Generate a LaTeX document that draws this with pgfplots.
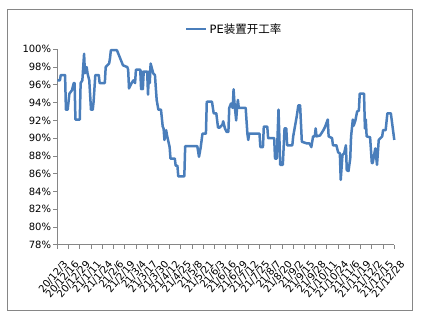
\documentclass[border=0pt]{standalone}
\usepackage{pgfplots}
\pgfplotsset{compat=1.18}
\usepackage{fontspec}
\setmainfont{DejaVu Sans}
\newfontfamily\cjk{Noto Sans CJK SC}
\definecolor{xlblue}{HTML}{4A7EBB}
\definecolor{axgray}{HTML}{868686}
\begin{document}
\begin{tikzpicture}
\path[use as bounding box] (-57.3pt,-74.2pt) rectangle (363.7pt,244.8pt);
\draw[axgray, line width=0.8pt] (-50.3pt,-65.9pt) rectangle (354.7pt,235.8pt);
\begin{axis}[
  at={(0pt,0pt)}, anchor=origin,
  scale only axis, width=337pt, height=195.5pt,
  xmin=0, xmax=390, ymin=78, ymax=100,
  axis x line*=bottom, axis y line*=left,
  axis line style={-, draw=axgray, line width=0.8pt},
  tick align=outside, major tick length=4pt,
  tick style={draw=axgray, line width=0.8pt},
  xtick={0,13,...,390},
  xticklabels={20/12/3,20/12/16,20/12/29,21/1/11,21/1/24,21/2/6,21/2/19,21/3/4,21/3/17,21/3/30,21/4/12,21/4/25,21/5/8,21/5/21,21/6/3,21/6/16,21/6/29,21/7/12,21/7/25,21/8/7,21/8/20,21/9/2,21/9/15,21/9/28,21/10/11,21/10/24,21/11/6,21/11/19,21/12/2,21/12/15,21/12/28},
  x tick label style={xshift=5pt, yshift=-9pt, rotate=50, anchor=north east, font=\fontsize{10}{12}\selectfont, inner sep=1pt},
  ytick={78,80,...,100},
  yticklabels={78\%,80\%,82\%,84\%,86\%,88\%,90\%,92\%,94\%,96\%,98\%,100\%},
  y tick label style={font=\fontsize{10}{12}\selectfont, inner sep=2pt},
  legend style={at={(0.525,1.104)}, anchor=center, draw=none, fill=none, font=\fontsize{11.5}{13}\selectfont},
  legend image code/.code={\draw[#1] (0pt,0pt) -- (20pt,0pt);},
  clip=false,
]
\addplot[xlblue, line width=2.5pt, line join=round] coordinates {
(0,96.5)(3,96.5)(4,97.1)(9,97.1)(10,93.2)(12,93.2)(14,95.0)(17,95.4)(19,96.2)(20,96.2)
(21,92.1)(26,92.1)(27,96.2)(29,96.5)(31,99.5)(32,97.3)(34,98.0)(35,97.3)(37,96.5)(39,93.2)
(41,93.2)(42,94.1)(44,97.1)(48,97.1)(49,96.2)(55,96.2)(56,98.0)(60,98.4)(61,99.0)(62,99.9)
(69,99.9)(76,98.2)(81,98.0)(82,97.7)(83,95.6)(86,96.2)(88,96.5)(90,96.2)(91,97.7)(96,97.7)
(97,95.5)(98,97.5)(99,95.5)(100,97.5)(104,97.5)(105,94.9)(106,97.5)(107,96.2)(108,98.4)(111,97.3)
(113,97.1)(115,94.3)(117,93.2)(120,93.2)(122,91.3)(123,91.1)(124,89.8)(126,90.9)(127,90.3)(130,89.0)
(131,87.7)(136,87.7)(137,86.9)(139,86.9)(140,85.7)(147,85.7)(148,89.1)(162,89.1)(164,87.9)(166,89.0)
(168,90.5)(172,90.5)(173,94.1)(179,94.1)(181,92.8)(184,92.8)(186,91.2)(188,91.2)(191,91.5)(192,91.9)
(194,91.1)(196,90.7)(198,90.7)(199,93.4)(201,93.9)(203,93.4)(204,95.5)(205,94.0)(207,92.0)(208,93.4)
(209,94.3)(210,93.4)(218,93.4)(220,90.5)(221,89.8)(222,90.5)(234,90.5)(235,89.0)(238,89.0)(239,91.3)
(243,91.3)(244,90.0)(251,90.0)(252,87.7)(254,87.7)(256,93.2)(258,87.0)(261,87.0)(263,91.1)(265,91.1)
(266,89.2)(272,89.2)(273,90.2)(277,92.4)(279,93.7)(281,93.7)(283,89.6)(289,89.4)(292,89.4)(294,89.0)
(296,90.2)(298,90.2)(299,91.1)(300,90.2)(304,90.3)(308,90.9)(310,91.3)(313,92.1)(314,90.2)(318,90.0)
(319,89.2)(323,89.2)(325,88.4)(327,88.3)(328,85.3)(330,88.1)(332,88.3)(334,89.2)(335,86.4)(337,86.3)
(339,87.7)(340,90.2)(342,92.1)(343,91.4)(345,92.0)(347,93.0)(349,93.1)(350,95.0)(355,95.0)(356,91.1)
(357,92.1)(358,90.2)(362,90.1)(364,87.2)(365,87.2)(368,88.85)(370,87.0)(372,89.8)(376,90.2)(377,90.9)
(380,90.9)(382,92.8)(386,92.8)(390,89.8)
};
\addlegendentry{PE{\cjk 装置开工率}}
\end{axis}
\end{tikzpicture}
\end{document}
